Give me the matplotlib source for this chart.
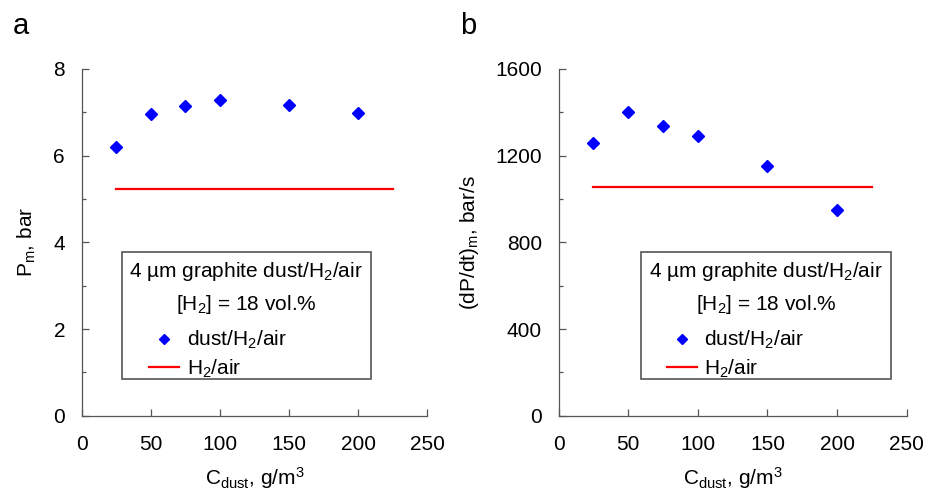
import matplotlib
matplotlib.use("Agg")
import matplotlib.pyplot as plt
from matplotlib.patches import Rectangle
from matplotlib.ticker import MultipleLocator

plt.rcParams['font.family'] = ['Liberation Sans', 'DejaVu Sans']
plt.rcParams['mathtext.fontset'] = 'custom'
plt.rcParams['mathtext.rm'] = 'Liberation Sans'
plt.rcParams['mathtext.it'] = 'Liberation Sans'

# data
c_dust = [25, 50, 75, 100, 150, 200]
pm_dust = [6.19, 6.96, 7.14, 7.29, 7.17, 6.99]
dpdt_dust = [1257, 1402, 1334, 1288, 1153, 951]
h2_range = [25, 225]
pm_h2 = 5.23
dpdt_h2 = 1056

spine_col = '#555555'
fs = 15

fig = plt.figure(figsize=(9.25, 4.91), dpi=100)
ax_a = fig.add_axes([0.0883, 0.153, 0.3737, 0.707])
ax_b = fig.add_axes([0.604, 0.153, 0.3762, 0.707])


def style_axes(ax, ymax, ymajor):
    ax.set_xlim(0, 250)
    ax.set_ylim(0, ymax)
    ax.xaxis.set_major_locator(MultipleLocator(50))
    ax.yaxis.set_major_locator(MultipleLocator(ymajor))
    ax.yaxis.set_minor_locator(MultipleLocator(ymajor / 2))
    for s in ['top', 'right']:
        ax.spines[s].set_visible(False)
    for s in ['left', 'bottom']:
        ax.spines[s].set_color(spine_col)
        ax.spines[s].set_linewidth(0.9)
    ax.tick_params(which='both', direction='in', color=spine_col, width=0.9,
                   labelsize=fs)
    ax.tick_params(axis='x', pad=14)
    ax.tick_params(axis='y', pad=12)
    ax.tick_params(which='major', length=5)
    ax.tick_params(which='minor', length=3)
    ax.set_xlabel('C$_{dust}$, g/m$^3$', fontsize=fs, labelpad=8)


def add_box(ax, x0, x1, xh):
    y0, y1 = 0.105, 0.471
    ax.add_patch(Rectangle((x0, y0), x1 - x0, y1 - y0, transform=ax.transAxes,
                           fill=False, edgecolor=spine_col, linewidth=1.2))
    xc = (x0 + x1) / 2
    ax.text(xc, 0.415, '4 \u00b5m graphite dust/H$_2$/air', transform=ax.transAxes,
            ha='center', va='center', fontsize=fs)
    ax.text(xc, 0.322, '[H$_2$] = 18 vol.%', transform=ax.transAxes,
            ha='center', va='center', fontsize=fs)
    ax.legend(loc='upper left', bbox_to_anchor=(xh, 0.25), frameon=False,
              fontsize=fs, borderpad=0, borderaxespad=0, handlelength=1.45,
              handletextpad=0.35, labelspacing=0.3, markerscale=0.75)


# panel a
ax_a.plot(c_dust, pm_dust, 'D', color='#0000ff', markersize=6.5,
          label='dust/H$_2$/air')
ax_a.plot(h2_range, [pm_h2, pm_h2], '-', color='#ff0000', linewidth=1.6,
          label='H$_2$/air')
style_axes(ax_a, 8, 2)
ax_a.set_ylabel('P$_m$, bar', fontsize=fs, labelpad=11)
add_box(ax_a, 0.116, 0.836, 0.195)

# panel b
ax_b.plot(c_dust, dpdt_dust, 'D', color='#0000ff', markersize=6.5,
          label='dust/H$_2$/air')
ax_b.plot(h2_range, [dpdt_h2, dpdt_h2], '-', color='#ff0000', linewidth=1.6,
          label='H$_2$/air')
style_axes(ax_b, 1600, 400)
ax_b.set_ylabel('(dP/dt)$_m$, bar/s', fontsize=fs, labelpad=10)
add_box(ax_b, 0.237, 0.954, 0.31)

fig.text(0.0135, 0.93, 'a', fontsize=21)
fig.text(0.497, 0.93, 'b', fontsize=21)

fig.savefig('out.png', dpi=100)
